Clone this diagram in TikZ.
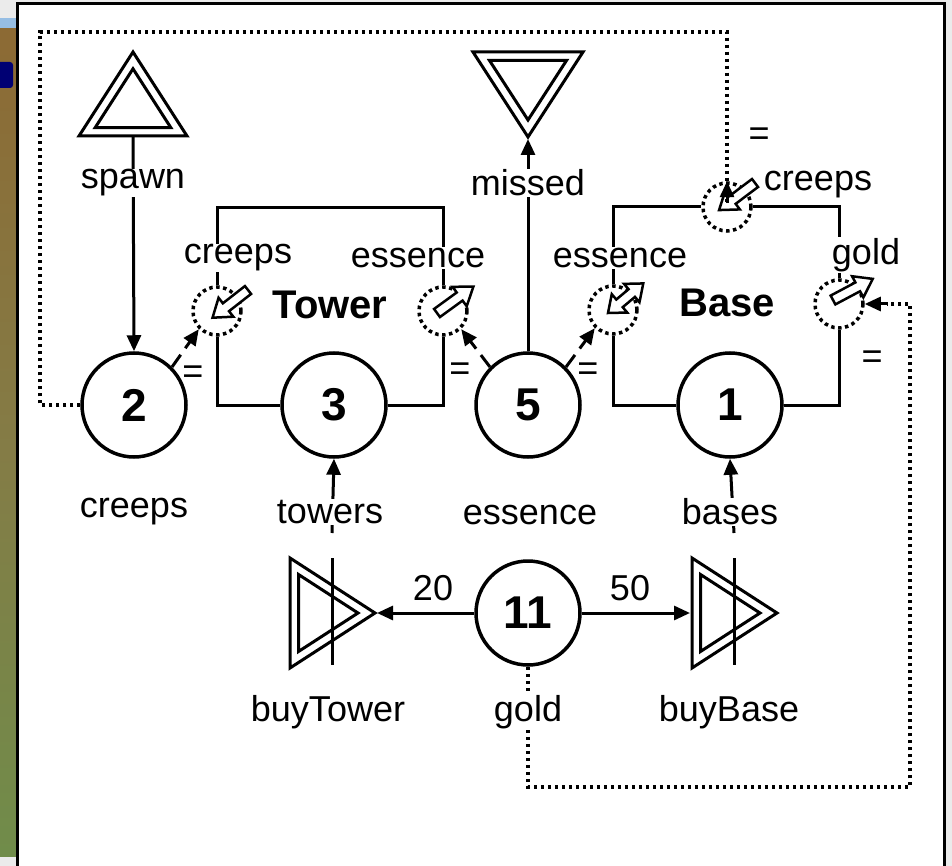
\documentclass[tikz,border=0pt]{standalone}
\usepackage{fontspec}
\setmainfont{Liberation Sans}
\usetikzlibrary{arrows.meta}
\definecolor{deskbrown}{RGB}{140,106,52}
\definecolor{deskolive}{RGB}{132,124,70}
\definecolor{deskgreen}{RGB}{112,140,74}
\definecolor{barblue}{RGB}{150,190,228}

\begin{document}
\begin{tikzpicture}[x=1pt, y=-1pt,
        every node/.style={align=center},
        lbl/.style={font=\fontsize{36}{40}\selectfont, fill=white, inner sep=1pt},
        eqsign/.style={font=\fontsize{36}{40}\selectfont, inner sep=0pt},
        title/.style={font=\fontsize{40}{44}\selectfont\bfseries, inner sep=0pt},
        pool/.style={draw, circle, line width=3.5pt, fill=white,
                     minimum size=104pt, inner sep=0pt,
                     font=\fontsize{46}{50}\selectfont\bfseries},
        gate/.style={draw, circle, line width=3.5pt, dash pattern=on 3.5pt off 3.5pt,
                     minimum size=48pt, inner sep=0pt},
        wire/.style={line width=3pt},
        flow/.style={line width=3pt, -{Triangle[length=16pt,width=14pt]}},
        statec/.style={line width=3pt, dash pattern=on 15pt off 8pt,
                       -{Triangle[length=16pt,width=14pt]}},
        dotloop/.style={line width=3.5pt, dash pattern=on 3.5pt off 3.5pt},
        source/.pic={
            \draw[wire] (-54,0) -- (0,-84) -- (54,0) -- cycle;
            \draw[wire] (-37.8,-8.4) -- (0,-67.2) -- (37.8,-8.4) -- cycle;
            \coordinate (-b) at (0,1);},
        drain/.pic={
            \draw[wire] (-55,-85) -- (55,-85) -- (0,0) -- cycle;
            \draw[wire] (-38.5,-76.5) -- (38.5,-76.5) -- (0,-17) -- cycle;
            \coordinate (-a) at (0,2);},
        converter/.pic={
            \draw[wire] (-42,-55) -- (43,0) -- (-42,55) -- cycle;
            \draw[wire] (-33.5,-38.5) -- (26,0) -- (-33.5,38.5) -- cycle;
            \draw[wire] (0,-55) -- (0,52);
            \coordinate (-t) at (0,-80);
            \coordinate (-l) at (-44,0);
            \coordinate (-r) at (45,0);},
        blk/.pic={
            \draw[line width=2.5pt, fill=white] (0,-5) -- (28,-5) -- (28,-12)
                -- (45,0) -- (28,12) -- (28,5) -- (0,5) -- cycle;},
        dblk/.pic={
            \draw[line width=2.5pt, fill=white] (0,0) -- (15,-12) -- (15,-5)
                -- (31,-5) -- (31,-12) -- (46,0) -- (31,12) -- (31,5)
                -- (15,5) -- (15,12) -- cycle;},
    ]
    \useasboundingbox (0,0) rectangle (952,866);
    \clip (0,0) rectangle (952,866);

    % --- window behind the panel -------------------------------------------
    \fill[white!92!black] (0,0) rectangle (952,866);
    \shade[top color=deskbrown, bottom color=deskolive] (0,28) rectangle (18,450);
    \shade[top color=deskolive, bottom color=deskgreen] (0,450) rectangle (18,856);
    \fill[barblue] (0,18) rectangle (18,28);
    \fill[blue!45!black, rounded corners=3pt] (-5,62) rectangle (13,88);
    \draw[line width=3pt, fill=white] (17,4) rectangle (944,890);

    % --- pools ---------------------------------------------------------------
    \node[pool] (p2)  at (134,405) {2};
    \node[pool] (p3)  at (334,405) {3};
    \node[pool] (p5)  at (528,405) {5};
    \node[pool] (p1)  at (730,405) {1};
    \node[pool] (p11) at (528,613) {11};

    % --- gates of Tower and Base --------------------------------------------
    \node[gate] (gtc) at (217,311) {};
    \node[gate] (gte) at (443,311) {};
    \node[gate] (gbe) at (613,310) {};
    \node[gate] (gbc) at (727,207) {};
    \node[gate] (gbg) at (839,304) {};
    \coordinate (tw) at (330,208);

    % Tower wiring
    \draw[wire] (gtc.north) |- (tw) -| (gte.north);
    \draw[wire] (p3.west) -| (gtc.south);
    \draw[wire] (p3.east) -| (gte.south);
    % Base wiring
    \draw[wire] (gbe.north) |- (gbc.west);
    \draw[wire] (gbc.east) -| (gbg.north);
    \draw[wire] (p1.west) -| (gbe.south);
    \draw[wire] (p1.east) -| (gbg.south);

    \pic[rotate=218] at (248,290) {blk};
    \pic[rotate=36]  at (437,313) {blk};
    \pic[rotate=40]  at (608,313) {dblk};
    \pic[rotate=217] at (755,183) {blk};
    \pic[rotate=28]  at (833,300) {blk};

    % --- source, drain, converters ------------------------------------------
    \pic (spawn) at (133,136) {source};
    \pic (missed) at (528,137) {drain};
    \pic (buyTower) at (332,613) {converter};
    \pic (buyBase) at (734,613) {converter};

    \draw[flow] (spawn-b) -- (p2.north);
    \draw[flow] (p5.north) -- (missed-a);
    \draw[flow] (buyTower-t) -- (p3.south);
    \draw[flow] (buyBase-t) -- (p1.south);
    \draw[flow] (p11.west) -- (buyTower-r);
    \draw[flow] (p11.east) -- (buyBase-l);

    % --- state connections ---------------------------------------------------
    \draw[statec] (p2.45)  -- (gtc.225);
    \draw[statec] (p5.135) -- (gte.-45);
    \draw[statec] (p5.45)  -- (gbe.225);

    \coordinate (lc) at (40,32);
    \coordinate (rc) at (910,787);
    \draw[dotloop] (p2.west) -| (lc) -| ([yshift=-22pt]gbc.north);
    \draw[line width=3pt, -{Triangle[length=16pt,width=14pt]}]
        ([yshift=-22pt]gbc.north) -- (gbc.north);
    \draw[dotloop] (p11.south) |- (rc) |- ([xshift=22pt]gbg.east);
    \draw[line width=3pt, -{Triangle[length=16pt,width=14pt]}]
        ([xshift=22pt]gbg.east) -- (gbg.east);

    % --- labels ----------------------------------------------------------------
    \node[lbl] (lspawn)  at (133,183) {spawn};
    \node[lbl] (lmissed) at (528,183) {missed};
    \node[lbl] (ltc)     at (238,258) {creeps};
    \node[lbl] (lte)     at (418,258) {essence};
    \node[lbl] (lbe)     at (620,258) {essence};
    \node[lbl] (lbc)     at (818,185) {creeps};
    \node[lbl] (lbg)     at (866,255) {gold};
    \node[lbl] (lp2)     at (134,512) {creeps};
    \node[lbl] (lp3)     at (330,512) {towers};
    \node[lbl] (lp5)     at (530,515) {essence};
    \node[lbl] (lp1)     at (730,512) {bases};
    \node[lbl] (l20)     at (433,588) {20};
    \node[lbl] (l50)     at (630,588) {50};
    \node[lbl] (lbt)     at (328,712) {buyTower};
    \node[lbl] (lgold)   at (528,712) {gold};
    \node[lbl] (lbb)     at (729,712) {buyBase};
    \node[title] (tower) at (330,305) {Tower};
    \node[title] (base)  at (727,303) {Base};

    \node[eqsign] at (193,375) {=};
    \node[eqsign] at (460,372) {=};
    \node[eqsign] at (588,372) {=};
    \node[eqsign] at (759,137) {=};
    \node[eqsign] at (872,360) {=};

\end{tikzpicture}
\end{document}
